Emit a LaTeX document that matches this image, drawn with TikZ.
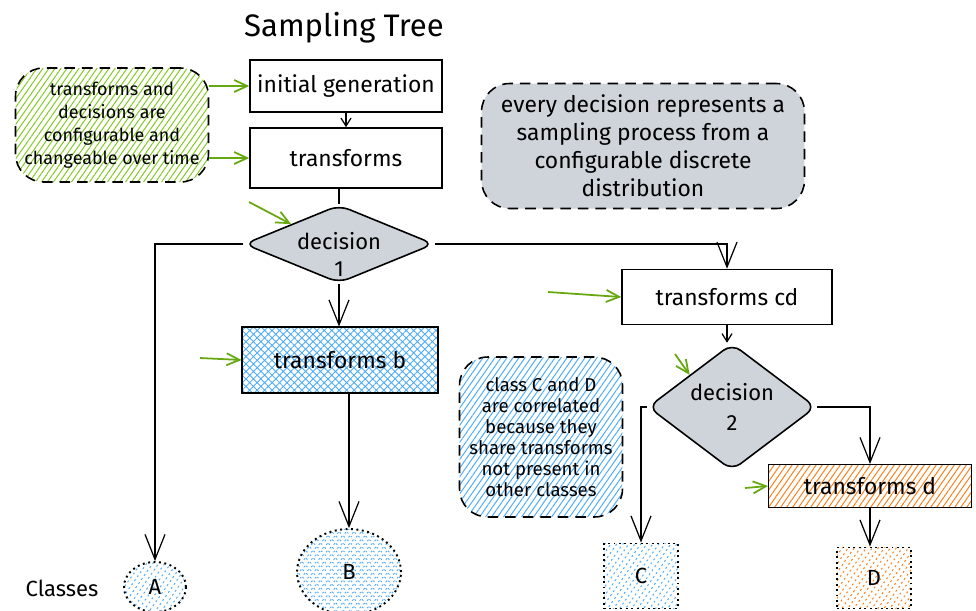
\documentclass[tikz,border=0pt]{standalone}
\usepackage{fontspec}
\setmainfont{Fira Sans}
\usetikzlibrary{arrows.meta,shapes.geometric,patterns.meta}

\definecolor{hatchblue}{HTML}{4DABF7}
\definecolor{hatchgreen}{HTML}{82C91E}
\definecolor{hatchorange}{HTML}{FD7E14}
\definecolor{notegray}{HTML}{CED4DA}
\definecolor{cuegreen}{HTML}{66A80F}

\tikzset{
  box/.style={draw, line width=0.9pt, inner sep=0pt, font=\fontsize{13}{16}\selectfont},
  choice/.style={draw, diamond, fill=notegray, rounded corners=6pt, line width=0.9pt, inner sep=0pt},
  choicetext/.style={align=center, font=\fontsize{12.5}{15}\selectfont},
  note/.style={draw, dash pattern=on 6pt off 4pt, rounded corners=16pt, line width=0.9pt,
    align=center, inner sep=0pt},
  cls/.style={draw, dotted, line width=1.1pt, inner sep=0pt, font=\fontsize{12.5}{15}\selectfont},
  hatch/.style={pattern={Lines[angle=55,distance=2.8pt,line width=0.55pt]}, pattern color=#1},
  cross/.style={pattern={Hatch[angle=45,distance=3pt,line width=0.5pt]}, pattern color=#1},
  flow/.style={-{Straight Barb[length=5mm,width=4mm]}, line width=0.7pt},
  stub/.style={-{Straight Barb[length=1.6mm,width=2mm]}, line width=0.7pt},
  cue/.style={cuegreen, -{Straight Barb[length=2.6mm,width=2.4mm]}, line width=1pt},
}

\begin{document}
\begin{tikzpicture}[x=0.02cm, y=-0.02cm]
  \fill[white] (0,0) rectangle (976,610);
  \useasboundingbox (0,0) rectangle (976,610);

  \node[font=\fontsize{17.7}{21}\selectfont] (title) at (344,28) {Sampling Tree};

  % main chain
  \node[box, minimum width=3.84cm, minimum height=1.04cm] (init) at (346,86) {initial generation};
  \node[box, minimum width=3.84cm, minimum height=1.2cm] (trans) at (346,158) {transforms};
  \node[choice, minimum width=3.8cm, minimum height=1.56cm,
    label={[choicetext, yshift=-6pt]center:decision\\[0pt]1}] (d1) at (339,244) {};
  \node[box, cross=hatchblue, minimum width=3.92cm, minimum height=1.32cm] (tb) at (340,360) {transforms b};
  \node[box, minimum width=4.2cm, minimum height=1.1cm] (tcd) at (727,297) {transforms cd};
  \node[choice, minimum width=3.36cm, minimum height=2.54cm,
    label={[choicetext]center:decision\\[2pt]2}] (d2) at (732,407) {};
  \node[box, hatch=hatchorange, minimum width=4.06cm, minimum height=0.86cm] (td) at (870,486) {transforms d};

  % classes
  \node[font=\fontsize{12.5}{15}\selectfont] (classes) at (62,588) {Classes};
  \node[cls, ellipse, hatch=hatchblue, minimum width=1.24cm, minimum height=1cm] (A) at (155,587) {A};
  \node[cls, ellipse, cross=hatchblue, minimum width=2.08cm, minimum height=1.72cm] (B) at (349,572) {B};
  \node[cls, hatch=hatchblue, minimum width=1.48cm, minimum height=1.3cm] (C) at (641,576) {C};
  \node[cls, hatch=hatchorange, minimum width=1.48cm, minimum height=1.22cm] (D) at (874,578) {D};

  % notes
  \node[note, hatch=hatchgreen, minimum width=3.86cm, minimum height=2.28cm,
    font=\fontsize{10.2}{13}\selectfont] (cfg) at (112,125)
    {transforms and\\decisions are\\configurable and\\changeable over time};
  \node[note, fill=notegray, minimum width=6.46cm, minimum height=2.5cm,
    font=\fontsize{13}{16}\selectfont] (info) at (643,146)
    {every decision represents a\\sampling process from a\\configurable discrete\\distribution};
  \node[note, hatch=hatchblue, minimum width=3.26cm, minimum height=3.2cm,
    font=\fontsize{10.6}{12}\selectfont] (corr) at (541,437)
    {class C and D\\are correlated\\because they\\share transforms\\not present in\\other classes};

  % connectors
  \draw[stub] (init.south) -- (init.south |- trans.north);
  \draw[line width=0.7pt] (d1.north |- trans.south) -- (d1.north);
  \draw[flow] (d1.west) -| (A.north);
  \draw[flow] (d1.south) -- (d1.south |- tb.north);
  \draw[flow] (d1.east) -| (tcd.north);
  \draw[flow] (B.north |- tb.south) -- (B.north);
  \draw[stub] (tcd.south) -- (tcd.south |- d2.north);
  \draw[flow] (d2.west) -| (C.north);
  \draw[flow] (d2.east) -| (td.north);
  \draw[flow] (td.south) -- (td.south |- D.north);

  % configuration cues
  \coordinate (c1) at (200,358);
  \coordinate (c2) at (249,202);
  \coordinate (c3) at (548,292);
  \coordinate (c4) at (675,354);
  \coordinate (c5) at (745,488);
  \draw[cue] (cfg.east |- init.west) -- (init.west);
  \draw[cue] (cfg.east |- trans.west) -- (trans.west);
  \draw[cue] (c1) -- (tb.west);
  \draw[cue] (c2) -- (d1.north west);
  \draw[cue] (c3) -- (tcd.west);
  \draw[cue] (c4) -- (d2.north west);
  \draw[cue] (c5) -- (td.west);
\end{tikzpicture}
\end{document}
